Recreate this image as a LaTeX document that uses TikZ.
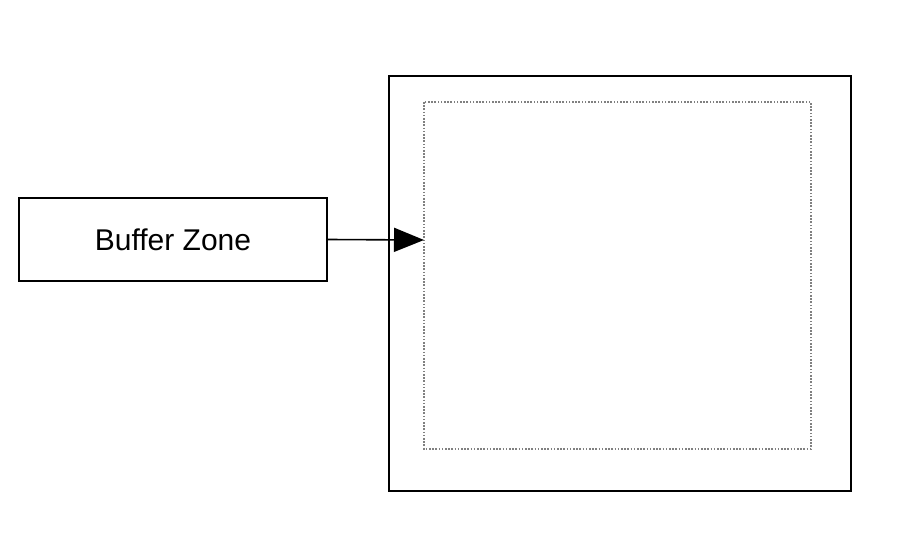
\documentclass[tikz,border=0pt]{standalone}
\usepackage{fontspec}
\setmainfont{Liberation Sans}
\usetikzlibrary{arrows.meta}
\begin{document}
\begin{tikzpicture}[x=1pt,y=1pt,
  boxstyle/.style={draw,line width=1.6pt,inner sep=0pt},
  dotstyle/.style={draw=gray,line width=1.6pt,dash pattern=on 1.6pt off 1.6pt}]
\useasboundingbox (0,0) rectangle (900,550);
\draw[boxstyle] (389,474) rectangle (851,59);
\draw[dotstyle] (424,448) rectangle (811,101);
\node[boxstyle,minimum width=308pt,minimum height=83pt,font=\fontsize{30}{36}\selectfont] (lbl) at (173,310.5) {Buffer Zone};
\coordinate (tgt) at (424,310);
\draw[line width=1.6pt,-{Triangle[length=30pt,width=24pt]}] (lbl.east) -- (tgt);
\end{tikzpicture}
\end{document}
